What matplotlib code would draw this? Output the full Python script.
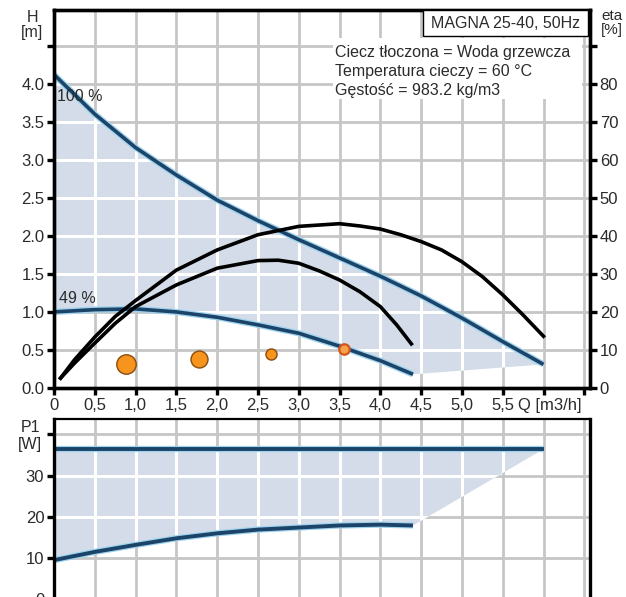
import numpy as np
import matplotlib
matplotlib.use("Agg")
import matplotlib.pyplot as plt
from matplotlib.patches import Rectangle

plt.rcParams["font.family"] = ["Liberation Sans", "DejaVu Sans"]

# -------------------------
# Data
# -------------------------
# H(Q) at 100 % and 49 % speed
q_max = [0.0, 0.5, 1.0, 1.5, 2.0, 2.5, 3.0, 3.5, 4.0, 4.5, 5.0, 5.5, 6.0]
h_max = [4.12, 3.60, 3.16, 2.80, 2.47, 2.20, 1.95, 1.71, 1.47, 1.21, 0.92, 0.61, 0.31]
q_min = [0.0, 0.5, 1.0, 1.5, 2.0, 2.5, 3.0, 3.5, 4.0, 4.4]
h_min = [1.00, 1.03, 1.04, 1.00, 0.93, 0.83, 0.72, 0.55, 0.36, 0.18]

# efficiency curves (right axis, %)
q_eta_a = [0.08, 0.25, 0.5, 0.75, 1.0, 1.5, 2.0, 2.5, 3.0, 3.5, 3.75, 4.0,
           4.25, 4.5, 4.75, 5.0, 5.25, 5.5, 5.75, 6.0]
eta_a = [2.6, 7.4, 13.4, 18.8, 23.0, 31.0, 36.3, 40.3, 42.5, 43.2, 42.6, 41.8,
         40.3, 38.5, 36.3, 33.2, 29.3, 24.5, 19.2, 13.6]
q_eta_b = [0.08, 0.25, 0.5, 0.75, 1.0, 1.5, 2.0, 2.5, 2.75, 3.0, 3.25, 3.5,
           3.75, 4.0, 4.2, 4.38]
eta_b = [2.6, 6.5, 11.8, 17.0, 21.4, 27.1, 31.5, 33.5, 33.6, 32.8, 30.8, 28.4,
         25.3, 21.4, 16.6, 11.6]

# operating points
q_pts = [0.88, 1.78, 2.66, 3.55]
h_pts = [0.32, 0.38, 0.45, 0.51]
pt_sizes = [14, 12.2, 8, 7.5]

# power P1(Q)
q_p1_max = [0.0, 6.0]
p1_max = [36.4, 36.4]
q_p1_min = [0.0, 0.5, 1.0, 1.5, 2.0, 2.5, 3.0, 3.5, 4.0, 4.4]
p1_min = [9.5, 11.5, 13.2, 14.8, 16.0, 16.9, 17.4, 17.9, 18.1, 17.9]

# ticks
q_ticks = [0, 0.5, 1.0, 1.5, 2.0, 2.5, 3.0, 3.5, 4.0, 4.5, 5.0, 5.5, 6.0, 6.5]
q_labels = ["0", "0,5", "1,0", "1,5", "2,0", "2,5", "3,0", "3,5", "4,0", "4,5",
            "5,0", "5,5", "", ""]
h_ticks = [0, 0.5, 1.0, 1.5, 2.0, 2.5, 3.0, 3.5, 4.0, 4.5]
h_labels = ["0.0", "0.5", "1.0", "1.5", "2.0", "2.5", "3.0", "3.5", "4.0", ""]
eta_ticks = [0, 10, 20, 30, 40, 50, 60, 70, 80, 90]
eta_labels = ["0", "10", "20", "30", "40", "50", "60", "70", "80", ""]
p1_ticks = [0, 10, 20, 30, 40]
p1_labels = ["0", "10", "20", "30", ""]

info_lines = ["Ciecz tłoczona = Woda grzewcza",
              "Temperatura cieczy = 60 °C",
              "Gęstość = 983.2 kg/m3"]

# -------------------------
# Styles
# -------------------------
BLUE = "#1b4468"
GLOW = "#9fd3ef"
FILL = "#d3dce8"
GRID = "#c6c6c6"
TXT = "#2b2b2b"
FS = 12      # tick labels
FS_T = 11.5  # other texts

fig = plt.figure(figsize=(6.26, 5.97), dpi=100)
ax = fig.add_axes([0.0863, 0.3501, 0.8562, 0.6332])
axp = fig.add_axes([0.0863, -0.0039, 0.8562, 0.302])


def grid_with_fill(a, xs, ys, poly_x, poly_y):
    # grey grid, shaded operating range, white grid inside the shading
    for x in xs:
        a.axvline(x, color=GRID, lw=2, zorder=0.5)
    for y in ys:
        a.axhline(y, color=GRID, lw=2, zorder=0.5)
    patch = a.fill(poly_x, poly_y, color=FILL, lw=0, zorder=1)[0]
    for x in xs:
        ln = a.axvline(x, color="white", lw=2.2, zorder=1.5)
        ln.set_clip_path(patch)
    for y in ys:
        ln = a.axhline(y, color="white", lw=2.2, zorder=1.5)
        ln.set_clip_path(patch)


def style_axes(a, spine_w=2.4):
    for s in a.spines.values():
        s.set_linewidth(spine_w)
        s.set_color("black")
    a.tick_params(direction="out", length=5, width=2.4, color="black",
                  labelsize=FS, labelcolor=TXT, pad=2)


# ---- top: H(Q) ----
ax.set_xlim(0, 6.57)
ax.set_ylim(0, 4.97)
grid_with_fill(ax, q_ticks[1:], h_ticks[1:],
               q_max + q_min[::-1], h_max + h_min[::-1])

for qq, hh in [(q_max, h_max), (q_min, h_min)]:
    ax.plot(qq, hh, color=GLOW, lw=4.5, zorder=2, solid_capstyle="butt")
    ax.plot(qq, hh, color=BLUE, lw=2.6, zorder=2.5, solid_capstyle="butt")

for q, h, s in zip(q_pts[:-1], h_pts[:-1], pt_sizes[:-1]):
    ax.plot(q, h, "o", ms=s, mfc="#f7941d", mec="#8a4a10", mew=1, zorder=4)
ax.plot(q_pts[-1], h_pts[-1], "o", ms=pt_sizes[-1], mfc="#f7a04a",
        mec="#d4541a", mew=1.6, zorder=4)

ax.text(0.04, 3.83, "100 %", fontsize=FS_T, color=TXT, va="center", zorder=5)
ax.text(0.06, 1.17, "49 %", fontsize=FS_T, color=TXT, va="center", zorder=5)

ax.set_xticks(q_ticks)
ax.set_xticklabels(q_labels)
ax.set_yticks(h_ticks)
ax.set_yticklabels(h_labels)
style_axes(ax)
ax.annotate("Q [m3/h]", xy=(6.08, 0), xycoords=ax.get_xaxis_transform(),
            xytext=(0, -7), textcoords="offset points",
            ha="center", va="top", fontsize=FS, color=TXT)

# right axis: efficiency
ax2 = ax.twinx()
ax2.set_ylim(0, 99.4)
ax2.plot(q_eta_a, eta_a, color="black", lw=2.6, zorder=3)
ax2.plot(q_eta_b, eta_b, color="black", lw=2.6, zorder=3)
ax2.set_yticks(eta_ticks)
ax2.set_yticklabels(eta_labels)
style_axes(ax2)

# info boxes
ax2.add_patch(Rectangle((0.52, 0.765), 0.465, 0.16, transform=ax2.transAxes,
                        facecolor="white", edgecolor="none", zorder=6))
ax2.add_patch(Rectangle((0.688, 0.931), 0.308, 0.069, transform=ax2.transAxes,
                        facecolor="white", edgecolor="black", lw=1, zorder=6))
ax2.text(0.842, 0.9655, "MAGNA 25-40, 50Hz", transform=ax2.transAxes,
         ha="center", va="center", fontsize=FS_T, color=TXT, zorder=7)
for i, line in enumerate(info_lines):
    ax2.text(0.524, 0.888 - i * 0.05, line, transform=ax2.transAxes,
             ha="left", va="center", fontsize=FS_T, color=TXT, zorder=7)

fig.text(32 / 626, 1 - 18 / 597, "H", ha="center", va="center", fontsize=FS_T, color=TXT)
fig.text(32 / 626, 1 - 32 / 597, "[m]", ha="center", va="center", fontsize=FS_T, color=TXT)
fig.text(612 / 626, 1 - 16 / 597, "eta", ha="center", va="center", fontsize=FS_T - 0.5, color=TXT)
fig.text(612 / 626, 1 - 30 / 597, "[%]", ha="center", va="center", fontsize=FS_T - 0.5, color=TXT)

# ---- bottom: P1(Q) ----
axp.set_xlim(0, 6.57)
axp.set_ylim(0, 43.7)
grid_with_fill(axp, q_ticks[1:], p1_ticks[1:],
               q_p1_max + q_p1_min[::-1], p1_max + p1_min[::-1])
for qq, pp in [(q_p1_max, p1_max), (q_p1_min, p1_min)]:
    axp.plot(qq, pp, color=GLOW, lw=4.5, zorder=2, solid_capstyle="butt")
    axp.plot(qq, pp, color=BLUE, lw=2.8, zorder=2.5, solid_capstyle="butt")

axp.set_xticks(q_ticks)
axp.set_xticklabels([])
axp.set_yticks(p1_ticks)
axp.set_yticklabels(p1_labels)
style_axes(axp)
axp.spines["top"].set_linewidth(1.6)
axp.tick_params(axis="x", length=0)

fig.text(30 / 626, 1 - 428 / 597, "P1", ha="center", va="center", fontsize=FS_T, color=TXT)
fig.text(30 / 626, 1 - 444 / 597, "[W]", ha="center", va="center", fontsize=FS_T, color=TXT)

fig.savefig("out.png", dpi=100)
